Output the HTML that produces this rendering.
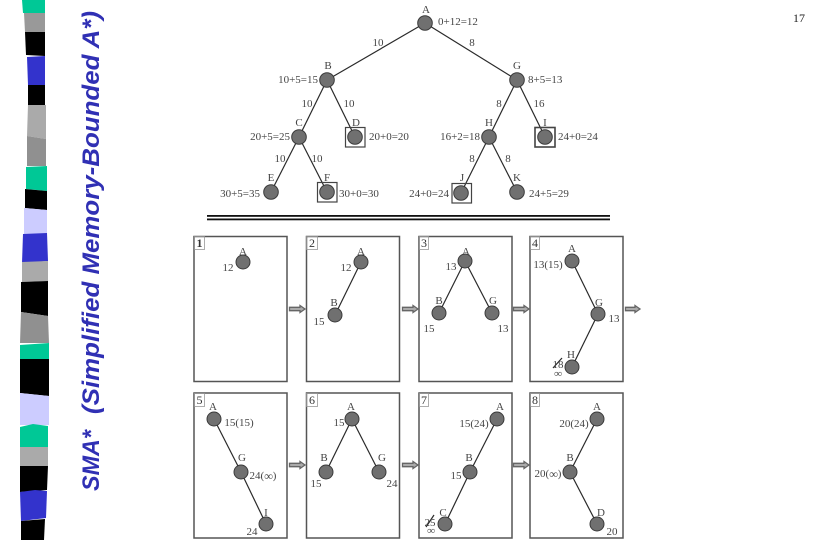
<!DOCTYPE html>
<html>
<head>
<meta charset="utf-8">
<style>
html,body{margin:0;padding:0;background:#fff;width:814px;height:540px;overflow:hidden}
svg{display:block}
.t text{font-family:"Liberation Serif",serif;font-size:11px;fill:#444;text-anchor:middle;dominant-baseline:central}
.s text{text-anchor:start}
.e text{text-anchor:end}
.n circle{fill:#707070;stroke:#3a3a3a;stroke-width:1}
.l line{stroke:#2a2a2a;stroke-width:1.2}
.b rect{fill:none;stroke:#444;stroke-width:1.2}
.p rect{fill:#fff;stroke:#555;stroke-width:1.5}
.k rect{fill:none;stroke:#999;stroke-width:.8}
.a path{fill:#aaa;stroke:#666;stroke-width:1.3}
.inf{font-weight:bold;font-size:12px}
</style>
</head>
<body>
<svg width="814" height="540" viewBox="0 0 814 540" xmlns="http://www.w3.org/2000/svg">
<rect width="814" height="540" fill="#fff"/>
<g>
<polygon fill="#00c896" points="22,0 45,0 45,13 23,13"/>
<polygon fill="#999" points="24,13 45,13 45,33 25,32"/>
<polygon fill="#000" points="25,32 45,32 45,56 26,55"/>
<polygon fill="#3333cc" points="27,57 45,56 45,85 28,85"/>
<polygon fill="#000" points="28,85 45,85 45,105 28,105"/>
<polygon fill="#aaa" points="28,105 46,105 46,139 27,136"/>
<polygon fill="#909090" points="27,136 46,139 46,166 27,166"/>
<polygon fill="#00c896" points="26,167 47,166 47,191 26,189"/>
<polygon fill="#000" points="25,189 47,191 47,210 25,208"/>
<polygon fill="#ccccff" points="24,208 47,210 47,234 24,234"/>
<polygon fill="#3333cc" points="23,234 47,233 48,261 22,263"/>
<polygon fill="#aaa" points="22,262 48,261 48,281 22,282"/>
<polygon fill="#000" points="21,282 48,281 48,316 21,312"/>
<polygon fill="#909090" points="21,312 48,316 49,343 20,343"/>
<polygon fill="#00c896" points="20,345 49,343 49,359 20,359"/>
<polygon fill="#000" points="20,359 49,359 49,396 20,393"/>
<polygon fill="#ccccff" points="20,393 49,396 49,425 20,425"/>
<polygon fill="#00c896" points="20,427 33,424 48,426 48,447 20,447"/>
<polygon fill="#aaa" points="20,447 48,447 48,466 20,466"/>
<polygon fill="#000" points="20,466 48,466 47,490 20,492"/>
<polygon fill="#3333cc" points="20,492 35,490 47,491 46,518 21,521"/>
<polygon fill="#000" points="21,521 45,519 44,540 21,540"/>
</g>
<g font-family="'Liberation Sans',sans-serif" font-weight="bold" font-style="italic" font-size="24" fill="#3030b4">
<text transform="translate(99,491) rotate(-90)" textLength="61" lengthAdjust="spacingAndGlyphs">SMA*</text>
<text transform="translate(99,414) rotate(-90)" textLength="403" lengthAdjust="spacingAndGlyphs">(Simplified Memory-Bounded A*)</text>
</g>
<text x="799" y="22" font-family="'Liberation Serif',serif" font-size="12" fill="#222" text-anchor="middle">17</text>

<g class="l">
<line x1="425" y1="23" x2="327" y2="80"/><line x1="425" y1="23" x2="517" y2="80"/>
<line x1="327" y1="80" x2="299" y2="137"/><line x1="327" y1="80" x2="355" y2="137"/>
<line x1="299" y1="137" x2="271" y2="192"/><line x1="299" y1="137" x2="327" y2="192"/>
<line x1="517" y1="80" x2="489" y2="137"/><line x1="517" y1="80" x2="545" y2="137"/>
<line x1="489" y1="137" x2="461" y2="193"/><line x1="489" y1="137" x2="517" y2="192"/>
</g>
<g class="b">
<rect x="345.500" y="127.500" width="19.500" height="19.500"/>
<rect x="317.500" y="182.500" width="19.500" height="19.500"/>
<rect x="452" y="183.500" width="19.500" height="19.500"/>
<rect x="535" y="127.500" width="20" height="19.500" style="stroke-width:1.6"/>
</g>
<g class="n">
<circle cx="425" cy="23" r="7.300"/><circle cx="327" cy="80" r="7.300"/><circle cx="517" cy="80" r="7.300"/>
<circle cx="299" cy="137" r="7.300"/><circle cx="355" cy="137" r="7.300"/><circle cx="489" cy="137" r="7.300"/><circle cx="545" cy="137" r="7.300"/>
<circle cx="271" cy="192" r="7.300"/><circle cx="327" cy="192" r="7.300"/><circle cx="461" cy="193" r="7.300"/><circle cx="517" cy="192" r="7.300"/>
</g>
<g class="t">
<text x="426" y="10">A</text><text x="328" y="66">B</text><text x="517" y="66">G</text>
<text x="299" y="123">C</text><text x="356" y="123">D</text><text x="489" y="123">H</text><text x="545" y="123">I</text>
<text x="271" y="178">E</text><text x="327" y="178">F</text><text x="462" y="178">J</text><text x="517" y="178">K</text>
<text x="378" y="43">10</text><text x="472" y="43">8</text>
<text x="307" y="104">10</text><text x="349" y="104">10</text><text x="280" y="159">10</text><text x="317" y="159">10</text>
<text x="499" y="104">8</text><text x="539" y="104">16</text><text x="472" y="159">8</text><text x="508" y="159">8</text>
</g>
<g class="t s">
<text x="438" y="22">0+12=12</text><text x="528" y="80">8+5=13</text>
<text x="369" y="137">20+0=20</text><text x="558" y="137">24+0=24</text>
<text x="339" y="194">30+0=30</text><text x="529" y="194">24+5=29</text>
</g>
<g class="t e">
<text x="318" y="80">10+5=15</text><text x="290" y="137">20+5=25</text><text x="480" y="137">16+2=18</text>
<text x="260" y="194">30+5=35</text><text x="449" y="194">24+0=24</text>
</g>
<rect x="207" y="215" width="403" height="1.800" fill="#111"/>
<rect x="207" y="218.500" width="403" height="1.800" fill="#111"/>

<g class="p">
<rect x="194" y="236.500" width="93" height="145"/><rect x="306.500" y="236.500" width="93" height="145"/>
<rect x="419" y="236.500" width="93" height="145"/><rect x="530" y="236.500" width="93" height="145"/>
<rect x="194" y="393" width="93" height="145"/><rect x="306.500" y="393" width="93" height="145"/>
<rect x="419" y="393" width="93" height="145"/><rect x="530" y="393" width="93" height="145"/>
</g>
<g class="k">
<rect x="194.500" y="236.500" width="10" height="13"/><rect x="306.500" y="236.500" width="11" height="13"/>
<rect x="419.500" y="236.500" width="9" height="13"/><rect x="530.500" y="236.500" width="9" height="13"/>
<rect x="194.500" y="393.500" width="10" height="13"/><rect x="306.500" y="393.500" width="11" height="13"/>
<rect x="419.500" y="393.500" width="9" height="13"/><rect x="530.500" y="393.500" width="9" height="13"/>
</g>
<g class="t">
<text x="199.500" y="243" style="font-size:12px;fill:#333;font-weight:bold">1</text><text x="312" y="243" style="font-size:12px;fill:#333">2</text>
<text x="424" y="243" style="font-size:12px;fill:#333">3</text><text x="535" y="243" style="font-size:12px;fill:#333">4</text>
<text x="199.500" y="400" style="font-size:12px;fill:#333">5</text><text x="312" y="400" style="font-size:12px;fill:#333">6</text>
<text x="424" y="400" style="font-size:12px;fill:#333">7</text><text x="535" y="400" style="font-size:12px;fill:#333">8</text>
</g>
<g class="a">
<path d="M289.500,307.300 H300 V305.500 L305,309 L300,312.500 V310.700 H289.500 Z"/>
<path d="M402.500,307.300 H413 V305.500 L418,309 L413,312.500 V310.700 H402.500 Z"/>
<path d="M513.500,307.300 H524 V305.500 L529,309 L524,312.500 V310.700 H513.500 Z"/>
<path d="M625.500,307.300 H635 V305.500 L640,309 L635,312.500 V310.700 H625.500 Z"/>
<path d="M289.500,463.300 H300 V461.500 L305,465 L300,468.500 V466.700 H289.500 Z"/>
<path d="M402.500,463.300 H413 V461.500 L418,465 L413,468.500 V466.700 H402.500 Z"/>
<path d="M513.500,463.300 H524 V461.500 L529,465 L524,468.500 V466.700 H513.500 Z"/>
</g>
<g class="l">
<line x1="361" y1="262" x2="335" y2="315"/>
<line x1="465" y1="261" x2="439" y2="313"/><line x1="465" y1="261" x2="492" y2="313"/>
<line x1="572" y1="261" x2="598" y2="314"/><line x1="598" y1="314" x2="572" y2="367"/>
<line x1="214" y1="419" x2="241" y2="472"/><line x1="241" y1="472" x2="266" y2="524"/>
<line x1="352" y1="419" x2="326" y2="472"/><line x1="352" y1="419" x2="379" y2="472"/>
<line x1="497" y1="419" x2="470" y2="472"/><line x1="470" y1="472" x2="445" y2="524"/>
<line x1="597" y1="419" x2="570" y2="472"/><line x1="570" y1="472" x2="597" y2="524"/>
<line x1="553" y1="368" x2="562" y2="358"/><line x1="426" y1="527" x2="434" y2="515"/>
</g>
<g class="n">
<circle cx="243" cy="262" r="7"/>
<circle cx="361" cy="262" r="7"/><circle cx="335" cy="315" r="7"/>
<circle cx="465" cy="261" r="7"/><circle cx="439" cy="313" r="7"/><circle cx="492" cy="313" r="7"/>
<circle cx="572" cy="261" r="7"/><circle cx="598" cy="314" r="7"/><circle cx="572" cy="367" r="7"/>
<circle cx="214" cy="419" r="7"/><circle cx="241" cy="472" r="7"/><circle cx="266" cy="524" r="7"/>
<circle cx="352" cy="419" r="7"/><circle cx="326" cy="472" r="7"/><circle cx="379" cy="472" r="7"/>
<circle cx="497" cy="419" r="7"/><circle cx="470" cy="472" r="7"/><circle cx="445" cy="524" r="7"/>
<circle cx="597" cy="419" r="7"/><circle cx="570" cy="472" r="7"/><circle cx="597" cy="524" r="7"/>
</g>
<g class="t">
<text x="243" y="252">A</text><text x="228" y="268">12</text>
<text x="361" y="252">A</text><text x="346" y="268">12</text><text x="334" y="303">B</text><text x="319" y="322">15</text>
<text x="466" y="252">A</text><text x="451" y="267">13</text><text x="439" y="301">B</text><text x="429" y="329">15</text><text x="493" y="301">G</text><text x="503" y="329">13</text>
<text x="572" y="249">A</text><text x="548" y="265">13(15)</text><text x="599" y="303">G</text><text x="614" y="319">13</text><text x="571" y="355">H</text><text x="558" y="365">18</text><text class="inf" x="558" y="374">∞</text>
<text x="213" y="407">A</text><text x="239" y="423">15(15)</text><text x="242" y="458">G</text><text x="263" y="476">24(<tspan class="inf">∞</tspan>)</text><text x="266" y="513">I</text><text x="252" y="532">24</text>
<text x="351" y="407">A</text><text x="339" y="423">15</text><text x="324" y="458">B</text><text x="316" y="484">15</text><text x="382" y="458">G</text><text x="392" y="484">24</text>
<text x="500" y="407">A</text><text x="474" y="424">15(24)</text><text x="469" y="458">B</text><text x="456" y="476">15</text><text x="443" y="513">C</text><text x="430" y="523">25</text><text class="inf" x="431" y="531">∞</text>
<text x="597" y="407">A</text><text x="574" y="424">20(24)</text><text x="570" y="458">B</text><text x="548" y="474">20(<tspan class="inf">∞</tspan>)</text><text x="601" y="513">D</text><text x="612" y="532">20</text>
</g>
</svg>
</body>
</html>
